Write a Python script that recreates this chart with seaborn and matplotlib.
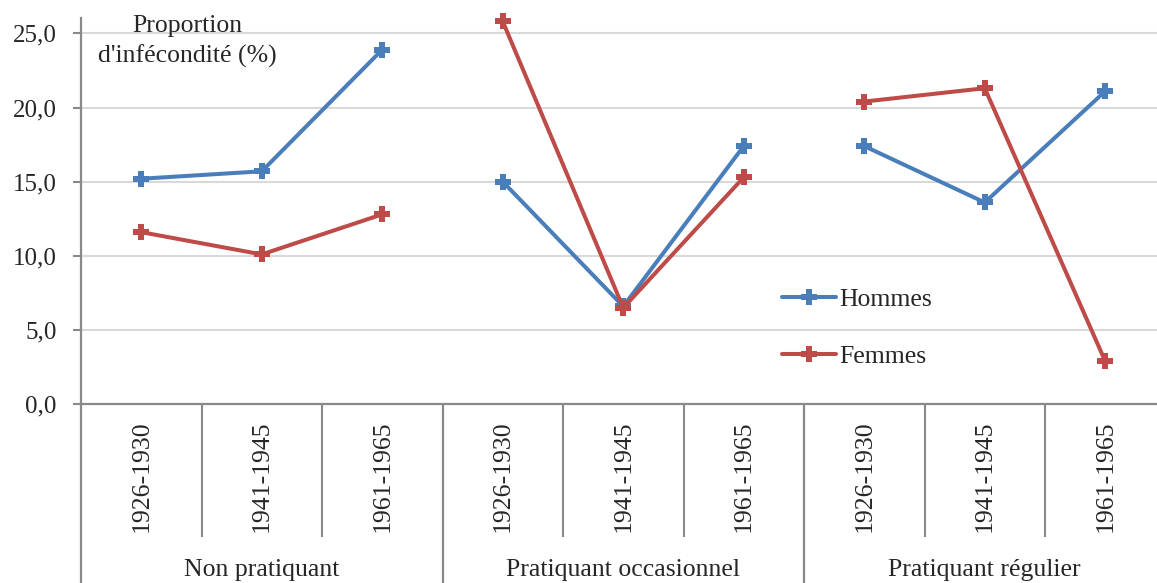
import matplotlib
matplotlib.use("Agg")
import matplotlib.pyplot as plt
import matplotlib.transforms as mtransforms
from matplotlib.lines import Line2D
import pandas as pd
import seaborn as sns

# Données : proportion d'infécondité (%) selon la pratique religieuse et la cohorte
groupes = ["Non pratiquant", "Pratiquant occasionnel", "Pratiquant régulier"]
cohortes = ["1926-1930", "1941-1945", "1961-1965"]
hommes = [15.2, 15.7, 23.9, 15.0, 6.6, 17.4, 17.4, 13.6, 21.1]
femmes = [11.6, 10.1, 12.8, 25.8, 6.5, 15.3, 20.4, 21.3, 2.9]
series = ["Hommes", "Femmes"]
y_ticks = [0, 5, 10, 15, 20, 25]
y_tick_labels = ["0,0", "5,0", "10,0", "15,0", "20,0", "25,0"]

couleurs = {"Hommes": "#4A7EBB", "Femmes": "#BE4B48"}
gris = "#898989"
lw, ms = 2.9, 12

sns.set_theme(style="white")
plt.rcParams["font.family"] = ["Liberation Serif", "DejaVu Serif"]
plt.rcParams["font.size"] = 18

lignes = []
for serie, valeurs in zip(series, [hommes, femmes]):
    for i, v in enumerate(valeurs):
        lignes.append({"pos": i, "valeur": v, "sexe": serie,
                       "groupe": groupes[i // 3], "cohorte": cohortes[i % 3]})
df = pd.DataFrame(lignes)

W, H = 1157, 583
fig = plt.figure(figsize=(W / 100, H / 100), dpi=100)
top_px, bottom_px, left_px, right_px = 18, 404.3, 81, 1165.5
ax = fig.add_axes([left_px / W, 1 - bottom_px / H,
                   (right_px - left_px) / W, (bottom_px - top_px) / H])

sns.lineplot(data=df, x="pos", y="valeur", hue="sexe", units="groupe",
             estimator=None, palette=couleurs, hue_order=series,
             marker="P", markersize=ms, markeredgewidth=0,
             linewidth=lw, legend=False, ax=ax, clip_on=False, zorder=3)

n = len(groupes) * len(cohortes)
ax.set_xlim(-0.5, n - 0.5)
ax.set_ylim(0, (bottom_px - top_px) / 14.84)

# Axe des ordonnées
ax.set_yticks(y_ticks, y_tick_labels)
ax.yaxis.grid(True, color="#D9D9D9", linewidth=1.5)
ax.set_axisbelow(True)
ax.tick_params(axis="y", length=6, width=1.5, color=gris, pad=11.5,
               labelsize=18, left=True)
for s in ["top", "right"]:
    ax.spines[s].set_visible(False)
for s in ["left", "bottom"]:
    ax.spines[s].set_color(gris)
    ax.spines[s].set_linewidth(1.6)
ax.set_xlabel("")
ax.set_ylabel("")

# Axe des abscisses à deux niveaux : cohortes puis groupes
ax.set_xticks(range(n), cohortes * len(groupes), rotation=90)
ax.tick_params(axis="x", length=0, pad=11.5, labelsize=18.5)
trans = mtransforms.blended_transform_factory(ax.transData, ax.transAxes)
h_ax = bottom_px - top_px
sep_court = [g * 3 + k + 0.5 for g in range(len(groupes)) for k in range(2)]
sep_long = [g * 3 - 0.5 for g in range(len(groupes) + 1)]
ax.vlines(sep_court, -(537 - bottom_px) / h_ax, 0, transform=trans,
          color=gris, linewidth=1.5, clip_on=False)
ax.vlines(sep_long, -0.6, 0, transform=trans,
          color=gris, linewidth=1.6, clip_on=False)
for g, nom in enumerate(groupes):
    ax.text(g * 3 + 1, -(576 - bottom_px) / h_ax, nom, transform=trans,
            ha="center", va="baseline", fontsize=18.5)

# Titre de l'axe vertical
fig.text(187 / W, 1 - 32 / H, "Proportion", ha="center", va="baseline",
         fontsize=18.5)
fig.text(187 / W, 1 - 63 / H, "d'infécondité (%)", ha="center",
         va="baseline", fontsize=18.5)

# Légende
poignees = [Line2D([], [], color=couleurs[s], marker="P", markersize=ms,
                   markeredgewidth=0, linewidth=lw) for s in series]
ax.legend(poignees, series, loc="center left", frameon=False,
          bbox_to_anchor=(782 / W, 1 - 328 / H), bbox_transform=fig.transFigure,
          borderaxespad=0, borderpad=0, handlelength=2.1, handletextpad=0.12,
          labelspacing=1.35, fontsize=18.5)

fig.savefig("out.png", dpi=100)
